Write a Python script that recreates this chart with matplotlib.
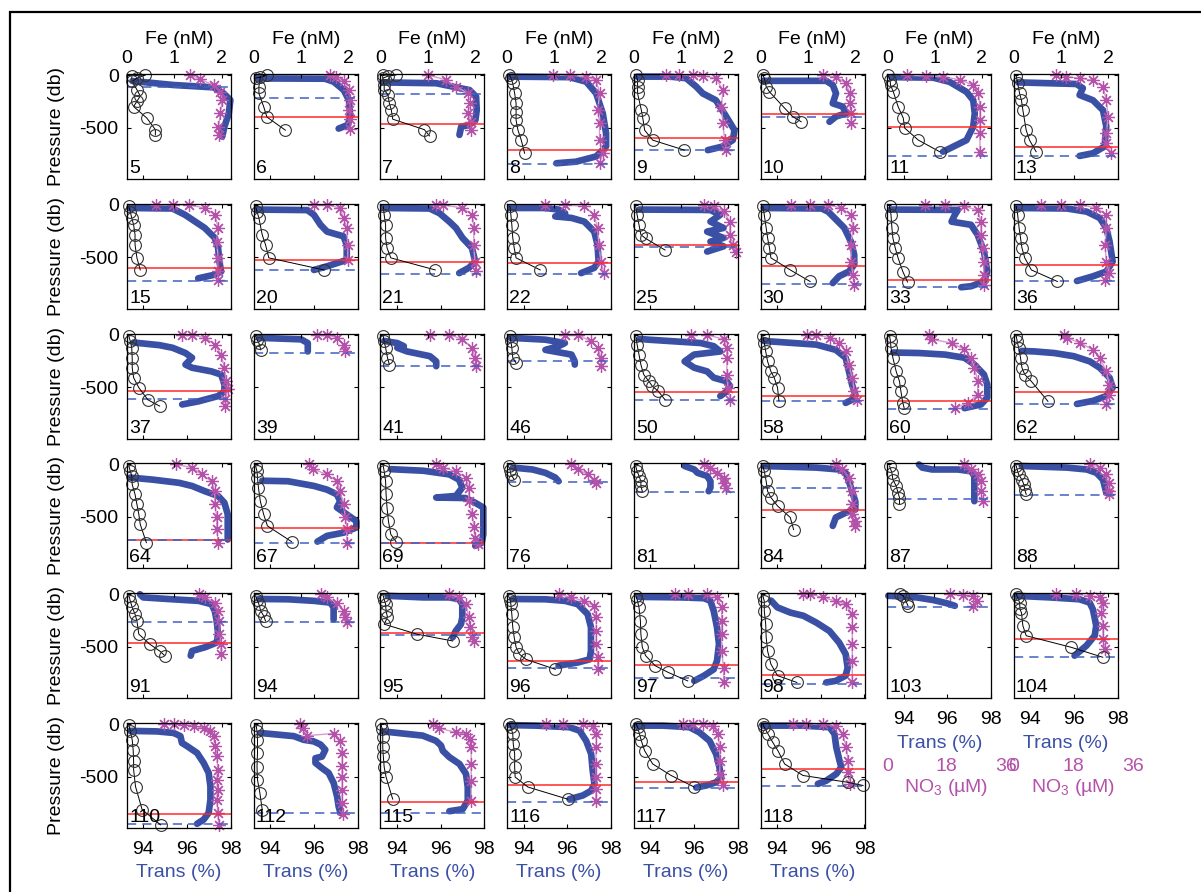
import matplotlib.pyplot as plt
from matplotlib.patches import Rectangle

plt.rcParams['font.family'] = ['Liberation Sans', 'DejaVu Sans']
plt.rcParams['mathtext.fontset'] = 'custom'
plt.rcParams['mathtext.rm'] = 'Liberation Sans'
plt.rcParams['axes.unicode_minus'] = False
plt.rcParams['font.size'] = 14

BLUE = '#3a50a5'
MAG = '#b452aa'
MAG_LINE = '#d79ad0'
RED = '#ff2a2a'
DASH = '#4060c0'

# station layout, one list per row of panels
grid = [
    [5, 6, 7, 8, 9, 10, 11, 13],
    [15, 20, 21, 22, 25, 30, 33, 36],
    [37, 39, 41, 46, 50, 58, 60, 62],
    [64, 67, 69, 76, 81, 84, 87, 88],
    [91, 94, 95, 96, 97, 98, 103, 104],
    [110, 112, 115, 116, 117, 118],
]

# dissolved Fe (nM), pressure (db)
fe = {
    5: [(0.11, 5), (0.39, 0), (0.21, 30), (0.11, 60), (0.21, 140), (0.28, 200), (0.21, 250), (0.14, 300), (0.42, 410), (0.60, 520), (0.60, 570)],
    6: [(0.04, 30), (0.28, 0), (0.14, 20), (0.11, 110), (0.11, 175), (0.21, 300), (0.28, 400), (0.67, 525)],
    7: [(0.05, 0), (0.33, 0), (0.16, 10), (0.05, 30), (0.08, 95), (0.08, 140), (0.16, 190), (0.19, 270), (0.23, 330), (0.26, 420), (0.93, 520), (1.04, 580)],
    8: [(0.05, 0), (0.08, 30), (0.12, 80), (0.16, 175), (0.19, 270), (0.19, 350), (0.19, 430), (0.23, 525), (0.30, 620), (0.37, 745)],
    9: [(0.05, 0), (0.08, 50), (0.08, 110), (0.08, 175), (0.16, 335), (0.19, 410), (0.23, 525), (0.40, 620), (1.07, 715)],
    10: [(0.05, 0), (0.08, 30), (0.12, 110), (0.19, 160), (0.51, 315), (0.68, 395), (0.86, 445)],
    11: [(0.02, 0), (0.06, 50), (0.07, 95), (0.13, 160), (0.23, 300), (0.34, 410), (0.37, 505), (0.66, 620), (1.11, 730)],
    13: [(0.05, 10), (0.08, 80), (0.12, 175), (0.16, 240), (0.19, 335), (0.26, 525), (0.33, 620), (0.47, 730)],
    15: [(0.04, 15), (0.07, 65), (0.10, 125), (0.14, 190), (0.17, 285), (0.17, 380), (0.21, 505), (0.28, 620)],
    20: [(0.04, 15), (0.07, 65), (0.11, 125), (0.18, 285), (0.25, 380), (0.32, 505), (1.49, 620)],
    21: [(0.06, 15), (0.08, 95), (0.11, 190), (0.11, 315), (0.14, 410), (0.22, 505), (1.16, 620)],
    22: [(0.06, 15), (0.08, 95), (0.10, 190), (0.12, 315), (0.15, 410), (0.19, 505), (0.70, 620)],
    25: [(0.04, 15), (0.07, 95), (0.11, 190), (0.15, 285), (0.25, 320), (0.66, 430)],
    30: [(0.05, 15), (0.08, 95), (0.12, 220), (0.15, 315), (0.19, 410), (0.22, 505), (0.63, 620), (1.05, 730)],
    33: [(0.05, 15), (0.08, 95), (0.10, 220), (0.12, 315), (0.17, 410), (0.23, 505), (0.33, 635), (0.43, 735)],
    36: [(0.05, 15), (0.08, 95), (0.11, 220), (0.14, 315), (0.17, 410), (0.23, 505), (0.37, 620), (0.92, 730)],
    37: [(0.04, 15), (0.07, 65), (0.10, 125), (0.11, 220), (0.11, 315), (0.14, 410), (0.25, 505), (0.44, 620), (0.69, 680)],
    39: [(0.04, 15), (0.07, 50), (0.11, 80), (0.15, 145)],
    41: [(0.06, 15), (0.08, 65), (0.11, 125), (0.15, 220), (0.19, 285)],
    46: [(0.06, 15), (0.08, 65), (0.10, 125), (0.12, 220), (0.19, 270)],
    50: [(0.04, 15), (0.07, 95), (0.11, 190), (0.15, 285), (0.21, 380), (0.32, 445), (0.39, 490), (0.52, 540), (0.66, 620)],
    58: [(0.05, 15), (0.08, 80), (0.11, 160), (0.15, 255), (0.22, 350), (0.29, 410), (0.36, 505), (0.39, 630)],
    60: [(0.05, 15), (0.07, 65), (0.08, 125), (0.12, 220), (0.19, 350), (0.26, 445), (0.29, 540), (0.33, 650), (0.36, 700)],
    62: [(0.05, 15), (0.07, 65), (0.10, 125), (0.14, 220), (0.17, 315), (0.23, 380), (0.37, 445), (0.72, 635)],
    64: [(0.04, 15), (0.07, 65), (0.10, 110), (0.11, 190), (0.17, 285), (0.21, 380), (0.25, 475), (0.28, 570), (0.41, 745)],
    67: [(0.04, 15), (0.07, 65), (0.08, 125), (0.10, 220), (0.14, 350), (0.21, 475), (0.29, 585), (0.80, 735)],
    69: [(0.06, 15), (0.08, 65), (0.11, 160), (0.12, 285), (0.14, 410), (0.17, 540), (0.22, 665), (0.33, 735)],
    76: [(0.03, 15), (0.06, 50), (0.08, 95), (0.15, 145)],
    81: [(0.04, 15), (0.07, 65), (0.11, 110), (0.15, 160), (0.15, 205), (0.18, 255)],
    84: [(0.05, 15), (0.08, 65), (0.12, 160), (0.15, 255), (0.22, 315), (0.36, 395), (0.63, 505), (0.70, 620)],
    87: [(0.05, 15), (0.10, 80), (0.12, 145), (0.19, 205), (0.23, 270), (0.26, 315), (0.26, 380)],
    88: [(0.05, 15), (0.07, 50), (0.10, 95), (0.17, 145), (0.21, 190), (0.23, 240), (0.26, 285)],
    91: [(0.04, 15), (0.07, 65), (0.11, 125), (0.17, 190), (0.21, 255), (0.25, 380), (0.48, 475), (0.69, 540), (0.80, 585)],
    94: [(0.04, 15), (0.07, 50), (0.11, 95), (0.15, 160), (0.21, 205), (0.25, 255)],
    95: [(0.06, 15), (0.08, 50), (0.11, 95), (0.12, 160), (0.15, 220), (0.08, 285), (0.77, 380), (1.53, 445)],
    96: [(0.03, 15), (0.06, 50), (0.08, 95), (0.10, 190), (0.12, 315), (0.15, 410), (0.19, 505), (0.26, 570), (0.40, 620), (1.02, 715)],
    97: [(0.04, 15), (0.07, 50), (0.11, 125), (0.14, 255), (0.15, 380), (0.18, 505), (0.25, 585), (0.45, 680), (0.73, 745), (1.14, 825)],
    98: [(0.05, 15), (0.08, 65), (0.08, 160), (0.11, 285), (0.12, 410), (0.15, 540), (0.22, 665), (0.36, 775), (0.77, 840)],
    103: [(0.27, 0), (0.34, 15), (0.41, 80), (0.44, 110)],
    104: [(0.05, 0), (0.08, 30), (0.12, 80), (0.13, 145), (0.16, 175), (0.19, 300), (0.26, 395), (1.21, 505), (1.88, 600)],
    110: [(0.04, 5), (0.07, 70), (0.11, 150), (0.13, 245), (0.14, 355), (0.14, 435), (0.18, 595), (0.32, 815), (0.71, 960)],
    112: [(0.05, 5), (0.07, 70), (0.08, 150), (0.08, 275), (0.07, 405), (0.08, 530), (0.13, 655), (0.18, 815)],
    115: [(0.01, 0), (0.04, 50), (0.05, 125), (0.05, 220), (0.06, 300), (0.08, 410), (0.12, 505), (0.26, 715)],
    116: [(0.05, 0), (0.08, 30), (0.12, 95), (0.13, 190), (0.16, 285), (0.16, 410), (0.17, 505), (0.44, 600), (1.28, 715)],
    117: [(0.05, 0), (0.08, 30), (0.12, 95), (0.16, 160), (0.23, 255), (0.40, 380), (0.79, 490), (1.28, 600)],
    118: [(0.05, 0), (0.08, 30), (0.16, 95), (0.26, 175), (0.37, 255), (0.51, 380), (0.90, 490), (1.85, 555), (2.17, 585)],
}

# beam transmission (%), pressure (db)
trans = {
    5: [(93.5, 57), (95.38, 95), (97.2, 117), (97.66, 174), (97.97, 238), (97.9, 365), (97.7, 491), (97.6, 586)],
    6: [(93.4, 32), (96.5, 35), (96.9, 63), (97.36, 143), (97.6, 238), (97.66, 396), (97.55, 475), (97.13, 510)],
    7: [(93.35, 70), (95.8, 78), (96.55, 110), (97.32, 143), (97.62, 206), (97.65, 333), (97.59, 428), (97.3, 476), (96.94, 492), (96.86, 570)],
    8: [(93.36, 15), (96.1, 20), (96.86, 63), (97.32, 175), (97.62, 365), (97.77, 555), (97.77, 680), (97.32, 775), (96.4, 825), (95.5, 840)],
    9: [(93.4, 15), (94.9, 15), (95.64, 30), (96.1, 110), (96.4, 175), (97.0, 240), (97.47, 395), (97.85, 525), (97.77, 620), (97.32, 680), (96.63, 715)],
    10: [(93.4, 55), (96.25, 55), (96.55, 95), (96.7, 175), (96.55, 270), (97.0, 300), (97.16, 365), (96.7, 395), (96.4, 445)],
    11: [(93.45, 20), (95.35, 25), (96.1, 65), (96.87, 160), (97.18, 240), (97.25, 365), (97.18, 490), (96.87, 620), (95.8, 730)],
    13: [(93.45, 70), (96.1, 85), (96.4, 125), (96.25, 190), (96.86, 240), (97.32, 335), (97.47, 490), (97.39, 680), (96.86, 745), (96.25, 770)],
    15: [(93.35, 30), (95.33, 35), (95.9, 95), (96.8, 220), (97.26, 315), (97.41, 410), (97.47, 540), (97.55, 635), (97.26, 665), (96.5, 700)],
    20: [(93.4, 45), (95.7, 50), (96.0, 95), (96.3, 190), (96.6, 255), (97.35, 300), (97.5, 380), (97.5, 525), (96.6, 585), (96.0, 620)],
    21: [(93.4, 30), (95.5, 35), (95.95, 80), (96.4, 160), (96.7, 220), (97.0, 315), (97.43, 410), (97.58, 540), (97.29, 600), (96.85, 650)],
    22: [(93.4, 30), (95.0, 30), (95.6, 45), (95.9, 80), (95.45, 110), (96.2, 125), (96.78, 160), (97.23, 255), (97.38, 380), (97.43, 540), (97.23, 600), (96.63, 650)],
    25: [(93.5, 45), (96.3, 48), (96.75, 50), (97.2, 95), (96.75, 160), (97.35, 220), (96.6, 255), (97.35, 315), (96.75, 350), (97.35, 395), (96.6, 445)],
    30: [(93.4, 30), (96.04, 35), (96.34, 65), (96.63, 125), (97.08, 220), (97.38, 350), (97.53, 475), (97.53, 570), (97.29, 635), (96.84, 680), (96.55, 745)],
    33: [(93.4, 45), (96.48, 48), (96.34, 95), (96.19, 160), (97.08, 190), (97.38, 285), (97.67, 445), (97.82, 635), (97.67, 730), (97.08, 775), (96.63, 785)],
    36: [(93.4, 30), (95.68, 35), (96.58, 65), (97.17, 125), (97.47, 220), (97.62, 350), (97.76, 540), (97.47, 635), (96.87, 680), (96.13, 725)],
    37: [(93.55, 75), (94.73, 100), (95.33, 125), (95.92, 175), (96.22, 220), (95.92, 285), (96.22, 315), (97.11, 350), (97.55, 380), (97.7, 475), (97.7, 540), (97.41, 585), (96.52, 635), (95.77, 665)],
    39: [(93.5, 30), (95.42, 45), (95.72, 80), (95.72, 160)],
    41: [(93.43, 60), (94.02, 80), (94.32, 110), (94.02, 125), (94.47, 160), (95.51, 205), (95.8, 255), (95.8, 300)],
    46: [(93.4, 30), (95.0, 48), (95.89, 80), (95.6, 110), (95.0, 145), (96.19, 190), (96.34, 255), (96.34, 285)],
    50: [(93.5, 40), (93.93, 48), (96.31, 80), (96.9, 110), (97.2, 160), (96.0, 190), (95.57, 255), (96.01, 315), (96.6, 350), (96.9, 410), (97.5, 445), (97.64, 490), (97.5, 540), (97.2, 585)],
    58: [(93.4, 60), (95.8, 95), (96.69, 145), (97.14, 220), (97.29, 350), (97.43, 475), (97.58, 570), (97.43, 620), (97.14, 650)],
    60: [(93.52, 170), (94.7, 175), (95.89, 190), (96.78, 220), (97.23, 285), (97.67, 380), (97.82, 475), (97.82, 600), (97.53, 665), (96.78, 700)],
    62: [(93.61, 155), (94.2, 160), (95.09, 175), (95.98, 205), (96.72, 255), (97.17, 315), (97.62, 410), (97.76, 505), (97.47, 585), (96.87, 630), (96.13, 660)],
    64: [(93.4, 125), (94.44, 145), (95.63, 175), (96.22, 205), (96.81, 255), (97.41, 300), (97.7, 365), (97.85, 475), (97.85, 600), (97.85, 715)],
    67: [(93.64, 155), (94.82, 160), (96.01, 205), (96.6, 240), (97.05, 285), (97.2, 350), (97.05, 410), (97.5, 475), (97.94, 540), (97.94, 600), (97.35, 650), (96.6, 680), (96.16, 735)],
    69: [(93.73, 45), (95.21, 60), (96.4, 95), (96.84, 145), (96.99, 220), (96.7, 300), (95.8, 315), (97.14, 320), (97.58, 365), (97.95, 410), (97.95, 540), (97.95, 665), (97.88, 745), (97.58, 775)],
    76: [(93.52, 30), (94.41, 48), (95.0, 80), (95.45, 125), (95.6, 160)],
    81: [(95.57, 15), (96.01, 48), (96.16, 80), (96.6, 110), (96.75, 160), (96.75, 220), (96.67, 255)],
    84: [(93.4, 15), (95.8, 30), (96.84, 48), (97.14, 80), (97.29, 160), (97.43, 255), (97.58, 350), (97.58, 430), (97.14, 460), (96.69, 505), (96.55, 585)],
    87: [(94.7, 0), (94.85, 30), (95.3, 48), (96.48, 48), (97.08, 65), (97.23, 110), (97.23, 220), (97.23, 350)],
    88: [(93.61, 15), (95.68, 30), (96.58, 48), (97.02, 80), (97.32, 145), (97.41, 220), (97.47, 270)],
    91: [(93.84, 0), (93.99, 30), (95.33, 48), (96.52, 63), (97.11, 95), (97.26, 160), (97.35, 255), (97.41, 380), (97.35, 460), (96.81, 505), (96.22, 540), (96.16, 585)],
    94: [(93.49, 45), (94.82, 48), (96.01, 63), (96.75, 80), (96.9, 125), (96.9, 190), (96.9, 240)],
    95: [(93.58, 15), (95.21, 30), (96.4, 30), (96.84, 48), (96.99, 95), (96.99, 220), (96.93, 285), (96.69, 350), (96.55, 410)],
    96: [(93.5, 45), (95.0, 48), (95.89, 63), (96.48, 95), (96.93, 190), (97.08, 315), (97.08, 445), (97.08, 540), (97.02, 620), (96.48, 650), (95.6, 680)],
    97: [(93.49, 25), (95.42, 30), (96.46, 38), (96.75, 63), (96.9, 160), (97.05, 315), (97.14, 475), (97.05, 635), (96.9, 715), (96.46, 775), (96.01, 825)],
    98: [(93.73, 60), (94.02, 125), (94.62, 175), (95.21, 205), (95.8, 270), (96.4, 350), (96.84, 460), (97.14, 570), (97.23, 700), (97.14, 775), (96.69, 825), (96.25, 840)],
    103: [(93.3, 15), (93.83, 20), (94.59, 30), (95.35, 55), (95.96, 85), (96.34, 110)],
    104: [(93.36, 15), (94.88, 30), (96.25, 48), (96.71, 80), (96.86, 145), (97.01, 300), (96.94, 395), (96.56, 490), (96.02, 585)],
    110: [(93.4, 65), (94.62, 70), (95.38, 85), (95.69, 115), (95.76, 180), (95.99, 210), (96.45, 275), (96.75, 370), (96.98, 465), (97.06, 595), (97.06, 720), (96.98, 845), (96.75, 910), (96.45, 950)],
    112: [(93.55, 85), (94.31, 100), (95.08, 115), (95.53, 150), (95.99, 165), (96.3, 195), (96.52, 245), (96.37, 310), (96.07, 325), (96.07, 370), (96.37, 420), (96.67, 465), (96.9, 560), (97.06, 690), (97.13, 785), (97.21, 845)],
    115: [(93.36, 70), (94.27, 90), (95.18, 110), (95.79, 160), (96.02, 205), (96.1, 255), (96.4, 315), (96.86, 380), (97.16, 475), (97.24, 600), (97.24, 730), (97.01, 810), (96.4, 830)],
    116: [(93.36, 10), (94.57, 15), (96.1, 30), (96.56, 63), (96.86, 160), (97.09, 285), (97.16, 445), (97.24, 570), (97.09, 635), (96.71, 680), (96.1, 715)],
    117: [(93.36, 15), (94.57, 15), (95.79, 30), (96.25, 80), (96.71, 160), (97.01, 285), (97.16, 410), (97.24, 505), (97.01, 555), (96.56, 585), (96.1, 605)],
    118: [(93.36, 15), (95.18, 15), (96.4, 30), (96.63, 95), (96.71, 220), (96.86, 350), (96.94, 410), (96.71, 475), (96.25, 540), (95.87, 570)],
}

# nitrate (uM), pressure (db)
no3 = {
    5: [(19.2, 0), (22.2, 41), (26.2, 95), (28.3, 158), (28.8, 238), (28.3, 365), (27.7, 491), (28.0, 570)],
    6: [(23, 0), (25, 20), (27.3, 60), (28.8, 140), (29.3, 240), (29, 330), (29.3, 420), (29.3, 510)],
    7: [(14.3, 0), (19.9, 45), (22.9, 110), (26.5, 175), (27, 270), (26.5, 365), (27.5, 445), (27.5, 525)],
    8: [(13.8, 0), (18.9, 0), (23.9, 15), (27, 50), (28, 175), (27.5, 335), (28, 460), (28, 620), (29, 745), (28, 840)],
    9: [(9.8, 0), (13.8, 0), (17.9, 0), (20.9, 5), (24.9, 30), (27, 145), (26.5, 300), (27, 460), (27.5, 620), (28, 715)],
    10: [(18.9, 0), (22.9, 20), (26, 80), (27, 175), (27, 270), (27.5, 365), (27.5, 460)],
    11: [(5.9, 0), (11.9, 10), (17, 15), (22, 45), (26, 95), (27.6, 175), (28.1, 300), (28.1, 430), (28.1, 555), (28.1, 730)],
    13: [(12.8, 0), (15.8, 15), (19.9, 30), (23.9, 50), (27, 110), (28, 240), (28.5, 400), (28, 555), (28, 650), (29.5, 745)],
    15: [(8.9, 0), (13.8, 0), (18.7, 0), (23.6, 30), (26.6, 95), (27.6, 220), (27.2, 350), (27.6, 505), (27.6, 630), (27.6, 715)],
    20: [(18.3, 0), (22.2, 0), (26.2, 30), (27.2, 125), (28.2, 220), (28.5, 380), (28.5, 525)],
    21: [(16.9, 0), (18.9, 0), (24.8, 30), (27.8, 95), (28.3, 220), (28.3, 380), (28.6, 540), (29.1, 630)],
    22: [(11.6, 0), (17.5, 0), (23.4, 15), (26.4, 95), (27.4, 220), (27.8, 380), (28.4, 540), (29.3, 650)],
    25: [(21.3, 0), (24.2, 15), (27.2, 60), (29.1, 160), (29.1, 285), (30.1, 380), (31.1, 445)],
    30: [(9.1, 0), (15, 0), (20.5, 0), (24.4, 30), (27.4, 95), (28, 220), (27.4, 380), (27.4, 540), (28, 665), (28.4, 760)],
    33: [(11.6, 0), (17.5, 0), (23.4, 15), (27.4, 50), (28.4, 160), (28.4, 285), (28.9, 410), (29.3, 540), (29.3, 665), (29.3, 760)],
    36: [(8.3, 0), (14.2, 0), (20.1, 0), (25, 30), (28, 95), (28, 220), (27.6, 380), (28, 540), (28.9, 650), (27.6, 720)],
    37: [(16.7, 0), (19.7, 0), (23.6, 30), (26.6, 95), (28.5, 190), (29.5, 315), (30, 440), (30.5, 520), (29.8, 615), (29.8, 680)],
    39: [(19.3, 0), (22.2, 0), (25.2, 30), (27.2, 95), (27.8, 160)],
    41: [(15, 0), (20.9, 0), (24.8, 45), (27.8, 125), (28.7, 220), (29.1, 300)],
    46: [(17.5, 0), (21.5, 0), (25.4, 65), (27.4, 125), (28.4, 220), (28.4, 300)],
    50: [(17.3, 0), (22.2, 0), (27.2, 45), (28.2, 125), (28.2, 220), (28.2, 380), (28.5, 505), (29.1, 620)],
    58: [(14, 0), (16.9, 0), (20.9, 30), (23.8, 80), (25.8, 160), (26.8, 285), (27.8, 410), (28.4, 540), (29.1, 620)],
    60: [(12.6, 0), (13.6, 45), (19.5, 80), (23.4, 140), (25.4, 220), (26.4, 315), (27.4, 440), (27.4, 570), (24.4, 650), (20.5, 700)],
    62: [(15.2, 0), (16.1, 30), (20.1, 80), (24, 145), (26, 220), (28, 350), (28.9, 475), (28.9, 570), (28, 660)],
    64: [(14.8, 0), (19.7, 30), (22.6, 95), (25.6, 160), (26.6, 255), (26.6, 380), (27.2, 505), (27.2, 615), (27.6, 745)],
    67: [(16.9, 0), (17.9, 45), (22.2, 95), (25.2, 160), (26.2, 255), (27.2, 380), (27.8, 505), (28.2, 615), (28.2, 745)],
    69: [(16.9, 0), (18.9, 30), (22.8, 65), (25.8, 125), (26.8, 220), (26.8, 350), (27.8, 475), (28.4, 600), (28.7, 700), (29.7, 755)],
    76: [(19.5, 0), (21.5, 45), (24.4, 95), (26.4, 145), (27, 175)],
    81: [(21.3, 0), (23.2, 30), (25.2, 80), (27.2, 125), (27.2, 175), (27.8, 220)],
    84: [(22.8, 0), (24.8, 45), (26.8, 125), (27.8, 250), (27.8, 380), (27.8, 475), (28.7, 540), (28.7, 585)],
    87: [(23.4, 0), (25.4, 45), (27.4, 95), (28.4, 160), (28.4, 255), (28.9, 350)],
    88: [(23, 0), (26, 30), (28, 95), (28.9, 175), (28.9, 255), (28.9, 285)],
    91: [(21.7, 0), (23.6, 30), (26.6, 80), (27.6, 160), (28, 255), (28, 380), (28.5, 475), (28.5, 570)],
    94: [(20.3, 0), (22.2, 30), (25.2, 80), (27.2, 160), (27.8, 220), (28.2, 260)],
    95: [(20.9, 0), (23.8, 30), (25.8, 95), (26.8, 220), (27.2, 315), (27.8, 410), (28.4, 445)],
    96: [(15.6, 0), (19.5, 30), (23.4, 65), (26.4, 110), (27, 220), (27, 350), (27, 475), (27.4, 600), (27.4, 715)],
    97: [(12.4, 0), (16.3, 0), (22.2, 0), (25.2, 30), (26.6, 125), (26.6, 255), (26.6, 380), (26.6, 540), (27.2, 700), (27.2, 840)],
    98: [(13, 0), (15, 0), (18.9, 30), (22.8, 65), (25.8, 95), (27.8, 190), (27.8, 315), (27.8, 475), (27.8, 635), (27.8, 840)],
    103: [(19, 0), (23, 10), (26, 20), (27.1, 60), (26, 110)],
    104: [(12.8, 0), (18.9, 0), (22.9, 15), (26, 30), (27, 80), (26.5, 175), (27, 300), (27, 430), (27.5, 525)],
    110: [(11.1, 0), (14.1, 0), (17.2, 5), (20.2, 20), (23.2, 35), (25.2, 70), (26.2, 115), (26.8, 210), (27.2, 300), (27.5, 435), (27.2, 530), (27.5, 625), (27.2, 720), (27.5, 845), (27.8, 960)],
    112: [(14.1, 0), (15, 40), (16.2, 110), (24.2, 90), (26.2, 165), (26.8, 275), (26.8, 400), (26.8, 500), (26.8, 625), (26.8, 750), (27.1, 860)],
    115: [(15.8, 0), (17.9, 40), (22.9, 80), (26, 95), (27, 145), (27.5, 220), (27.5, 380), (27.5, 540), (27.5, 730)],
    116: [(11.8, 0), (16.9, 0), (22.9, 0), (26, 15), (27, 95), (27, 220), (26.8, 380), (27, 505), (27, 615), (26.8, 730)],
    117: [(14.8, 0), (17.9, 0), (20.9, 0), (23.9, 15), (25.5, 95), (26, 220), (26.2, 350), (26, 475), (27, 585)],
    118: [(9.8, 0), (13.8, 0), (18.9, 0), (22.9, 15), (24.9, 95), (26, 220), (26.5, 350), (26.5, 460), (27, 570)],
}

# pressure of the solid red line and of the dashed blue line (db)
red_line = {6: 403, 7: 469, 8: 713, 9: 602, 10: 371, 11: 498, 13: 682, 15: 602, 20: 529,
            21: 548, 22: 555, 25: 387, 30: 580, 33: 713, 36: 570, 37: 533, 50: 545, 58: 580,
            60: 634, 62: 545, 64: 717, 67: 609, 69: 745, 84: 434, 91: 460, 95: 365, 96: 640,
            97: 675, 98: 767, 104: 422, 110: 857, 115: 740, 116: 583, 117: 555, 118: 428}
dash_line = {5: 111, 6: 222, 7: 184, 8: 850, 9: 713, 10: 403, 11: 767, 13: 770, 15: 723,
             20: 618, 21: 656, 22: 659, 25: 406, 30: 754, 33: 783, 36: 729, 37: 612, 39: 174,
             41: 301, 46: 254, 50: 618, 58: 628, 60: 707, 62: 656, 64: 723, 67: 745, 69: 748,
             76: 165, 81: 260, 84: 222, 87: 327, 88: 292, 91: 269, 94: 260, 95: 390, 96: 707,
             97: 799, 98: 850, 103: 121, 104: 602, 110: 955, 112: 846, 115: 848, 116: 738,
             117: 609, 118: 586}

W, H = 1201, 892
fig = plt.figure(figsize=(W / 100, H / 100), dpi=100)


def rect(r, c):
    x0 = 127 + 126.7 * c
    y0 = 74 + 129.8 * r
    return [x0 / W, 1 - (y0 + 105) / H, 104 / W, 105 / H]


for r, row in enumerate(grid):
    for c, st in enumerate(row):
        ax = fig.add_axes(rect(r, c))
        ax.set_xlim(93.25, 98)
        ax.set_ylim(-990, 10)
        show_trans = (r == 5) or st in (103, 104)
        ax.set_xticks([94, 96, 98])
        ax.set_yticks([0, -500])
        ax.set_yticklabels(['0', '-500'])
        ax.tick_params(axis='x', direction='in', length=3, pad=9, labelbottom=show_trans)
        ax.tick_params(axis='y', direction='in', length=3, pad=6, labelleft=(c == 0), right=True)
        for s in ax.spines.values():
            s.set_color('#555555')
        if show_trans:
            ax.set_xlabel('Trans (%)', color=BLUE, labelpad=5)
        if c == 0:
            ax.set_ylabel('Pressure (db)')
            ax.yaxis.set_label_coords(-0.6, 0.5)

        tx, tp = zip(*trans[st])
        ax.plot(tx, [-p for p in tp], color=BLUE, lw=4.8, solid_capstyle='round',
                solid_joinstyle='round', clip_on=False)

        axn = ax.twiny()
        axn.set_xlim(0, 31.5)
        axn.xaxis.set_visible(False)
        nx, npr = zip(*no3[st])
        axn.plot(nx, [-p for p in npr], color=MAG_LINE, lw=1, marker=(8, 2, 0), ms=9,
                 mec=MAG, mew=0.9, clip_on=False)

        axf = ax.twiny()
        axf.set_xlim(0, 2.2)
        axf.set_xticks([0, 1, 2])
        axf.tick_params(axis='x', direction='in', length=3, pad=5, labeltop=(r == 0))
        if r == 0:
            axf.set_xlabel('Fe (nM)', labelpad=4)
        if st in red_line:
            axf.axhline(-red_line[st], color=RED, lw=1.1)
        axf.axhline(-dash_line[st], color=DASH, lw=1.1, dashes=(6, 4))
        fx, fp = zip(*fe[st])
        axf.plot(fx, [-p for p in fp], color='black', lw=0.7, marker='o', ms=8.5,
                 mfc='none', mec='#333333', mew=0.8, clip_on=False)
        axf.text(0.02, 0.02, str(st), transform=axf.transAxes, ha='left', va='bottom',
                 fontsize=14)

# nitrate scale under the last two panels
for c in (6, 7):
    x0 = (127 + 126.7 * c) / W
    axs = fig.add_axes([x0, 1 - 757 / H, 104 / W * 36 / 31.5, 0.0001])
    axs.set_xlim(0, 36)
    axs.set_xticks([0, 18, 36])
    axs.set_yticks([])
    axs.tick_params(axis='x', length=0, pad=1, labelcolor=MAG)
    axs.patch.set_visible(False)
    for s in axs.spines.values():
        s.set_visible(False)
    axs.set_xlabel('NO$_3$ (µM)', color=MAG, labelpad=1)

fig.add_artist(Rectangle((10 / W, -0.5), 2, 1.5 - 12 / H, transform=fig.transFigure,
                         fill=False, ec='black', lw=1.6))

fig.savefig('out.png', dpi=100)
